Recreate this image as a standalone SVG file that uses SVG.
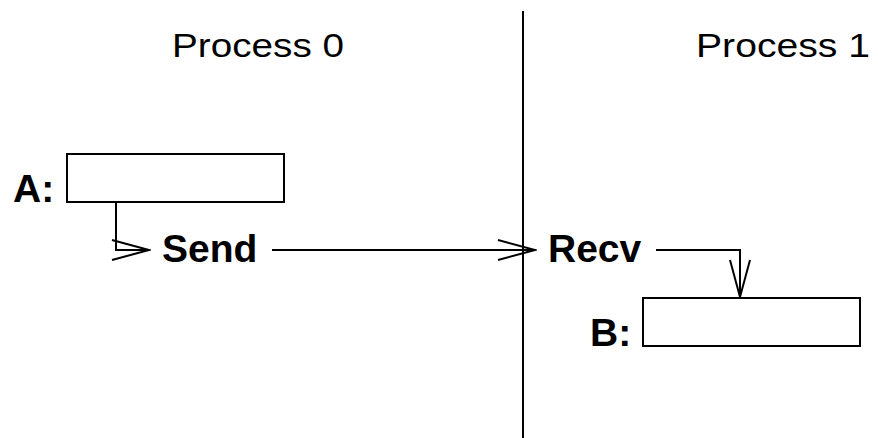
<svg xmlns="http://www.w3.org/2000/svg" width="878" height="438" viewBox="0 0 878 438">
<style>
.box{fill:#fff;stroke:#000;stroke-width:2}
.line{fill:none;stroke:#000;stroke-width:2}
.lbl{font-family:"Liberation Sans",Arial,sans-serif;font-weight:bold;font-size:39px;fill:#000}
.title{font-family:"Liberation Sans",Arial,sans-serif;font-size:33px;fill:#000}
</style>
<defs>
<marker id="arr" markerUnits="userSpaceOnUse" viewBox="-40 -12 42 24" refX="0" refY="0" markerWidth="42" markerHeight="24" orient="auto">
<path d="M-37,-10 L0,0 L-37,10" fill="none" stroke="#000" stroke-width="2"/>
</marker>
</defs>
<g id="divider"><line class="line" x1="523" y1="11" x2="523" y2="438"/></g>
<g id="title0"><text class="title" x="172" y="57" textLength="172" lengthAdjust="spacingAndGlyphs">Process 0</text></g>
<g id="title1"><text class="title" x="696" y="57" textLength="174" lengthAdjust="spacingAndGlyphs">Process 1</text></g>
<g id="nodeA">
<text class="lbl" x="13" y="202">A:</text>
<rect class="box" x="67" y="154" width="217" height="48"/>
</g>
<g id="send"><text class="lbl" x="162" y="262">Send</text></g>
<g id="recv"><text class="lbl" x="548" y="262">Recv</text></g>
<g id="nodeB">
<text class="lbl" x="590" y="346">B:</text>
<rect class="box" x="643" y="298" width="217" height="48"/>
</g>
<g id="connectors">
<path class="line" d="M116,202 V250 H149" marker-end="url(#arr)"/>
<path class="line" d="M272,250 H535" marker-end="url(#arr)"/>
<path class="line" d="M656,250 H740 V297" marker-end="url(#arr)"/>
</g>
</svg>
